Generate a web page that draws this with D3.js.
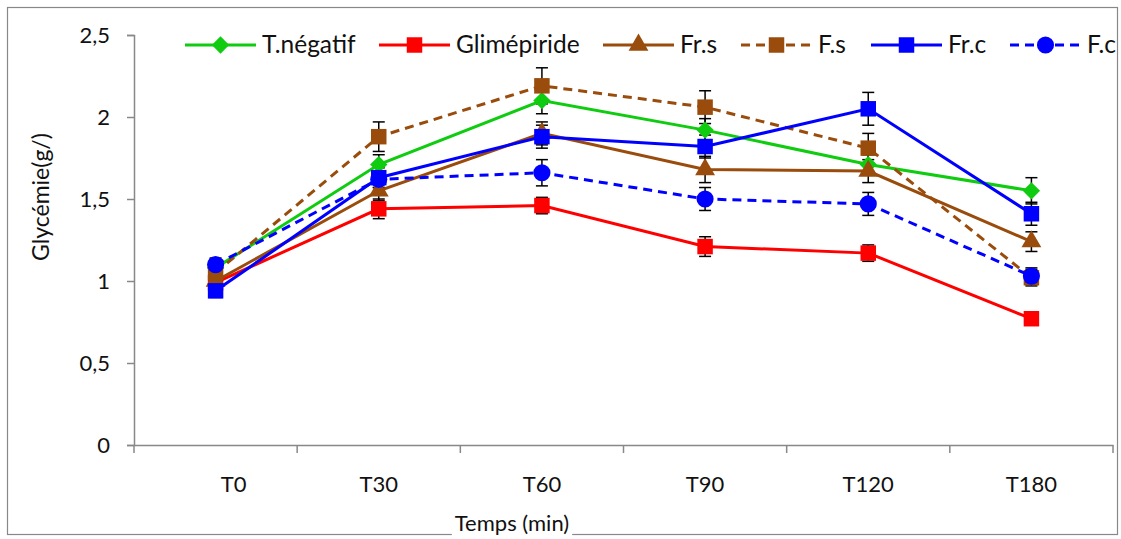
<!DOCTYPE html>
<html>
<head>
<meta charset="utf-8">
<script src="https://d3js.org/d3.v7.min.js"></script>
<style>
  body { margin: 0; background: #fff; }
  text { font-family: Lato, "Open Sans", sans-serif; fill: #111; }
</style>
</head>
<body>
<div id="chart"></div>
<script>
'use strict';

// Time points
const categories = ['T0', 'T30', 'T60', 'T90', 'T120', 'T180'];
const yTicks = [0, 0.5, 1, 1.5, 2, 2.5];

// Mean glycemia (g/l) per group
const tNegatif = [1.08, 1.71, 2.10, 1.92, 1.71, 1.55];
const glimepiride = [0.99, 1.44, 1.46, 1.21, 1.17, 0.77];
const frS = [1.00, 1.55, 1.90, 1.68, 1.67, 1.24];
const fS = [1.05, 1.88, 2.19, 2.06, 1.81, 1.02];
const frC = [0.94, 1.63, 1.88, 1.82, 2.05, 1.41];
const fC = [1.10, 1.62, 1.66, 1.50, 1.47, 1.03];

// Error (SEM) per group
const tNegatifErr = [0.05, 0.06, 0.08, 0.07, 0.06, 0.08];
const glimepirideErr = [0.04, 0.06, 0.05, 0.06, 0.05, 0.04];
const frSErr = [0.04, 0.06, 0.07, 0.08, 0.07, 0.06];
const fSErr = [0.05, 0.09, 0.11, 0.10, 0.09, 0.05];
const frCErr = [0.04, 0.06, 0.07, 0.07, 0.10, 0.07];
const fCErr = [0.04, 0.05, 0.08, 0.07, 0.07, 0.05];

// diamond = square turned 45deg
const series = [
  { name: 'T.négatif', values: tNegatif, err: tNegatifErr, color: '#10cc10', dash: null, symbol: d3.symbolSquare, size: 150, rot: 45 },
  { name: 'Glimépiride', values: glimepiride, err: glimepirideErr, color: '#ff0000', dash: null, symbol: d3.symbolSquare, size: 240, rot: 0 },
  { name: 'Fr.s', values: frS, err: frSErr, color: '#994c0c', dash: null, symbol: d3.symbolTriangle, size: 170, rot: 0 },
  { name: 'F.s', values: fS, err: fSErr, color: '#994c0c', dash: '9,6', symbol: d3.symbolSquare, size: 240, rot: 0 },
  { name: 'Fr.c', values: frC, err: frCErr, color: '#0000ff', dash: null, symbol: d3.symbolSquare, size: 240, rot: 0 },
  { name: 'F.c', values: fC, err: fCErr, color: '#0000ff', dash: '9,6', symbol: d3.symbolCircle, size: 230, rot: 0 }
];

const width = 1121;
const height = 539;
const margin = { top: 35, right: 8, bottom: 94, left: 134 };

const svg = d3.select('#chart')
  .append('svg')
  .attr('width', width)
  .attr('height', height);

// Outer frame
svg.append('rect')
  .attr('x', 7.5).attr('y', 7.5)
  .attr('width', 1110).attr('height', 527)
  .attr('fill', '#fff')
  .attr('stroke', '#888')
  .attr('stroke-width', 1.2);

const x = d3.scaleBand()
  .domain(categories)
  .range([margin.left, width - margin.right])
  .padding(0);

const y = d3.scaleLinear()
  .domain([0, 2.5])
  .range([height - margin.bottom, margin.top]);

const cx = d => x(d) + x.bandwidth() / 2;

// Y axis
const yAxis = svg.append('g')
  .attr('transform', `translate(${margin.left},0)`)
  .call(d3.axisLeft(y).tickValues(yTicks).tickSize(7).tickPadding(17)
    .tickFormat(d => String(d).replace('.', ',')));

// X axis
const xAxis = svg.append('g')
  .attr('transform', `translate(0,${height - margin.bottom})`)
  .call(d3.axisBottom(x).tickSize(0).tickPadding(31));

xAxis.selectAll('.tick line').remove();
// first label sits a bit right of its point, as in the original
xAxis.selectAll('.tick text').filter(d => d === 'T0').attr('dx', 18);

// Tick marks at band boundaries
xAxis.selectAll('.bound')
  .data(categories.concat(['end']))
  .enter()
  .append('line')
  .attr('x1', (d, i) => i < categories.length ? x(d) : x.range()[1])
  .attr('x2', (d, i) => i < categories.length ? x(d) : x.range()[1])
  .attr('y1', 0)
  .attr('y2', 8)
  .attr('stroke', '#888')
  .attr('stroke-width', 1.5);

[yAxis, xAxis].forEach(ax => {
  ax.select('.domain').attr('stroke', '#888').attr('stroke-width', 1.5);
  ax.selectAll('.tick line').attr('stroke', '#888').attr('stroke-width', 1.5);
  ax.selectAll('text').style('font-size', '22px').attr('fill', '#111');
});

// Axis titles
const xTitle = svg.append('text')
  .attr('x', 512)
  .attr('y', 531)
  .attr('text-anchor', 'middle')
  .style('font-size', '22px')
  .text('Temps (min)');

const bb = xTitle.node().getBBox();
svg.insert('rect', () => xTitle.node())
  .attr('x', bb.x - 3).attr('y', bb.y)
  .attr('width', bb.width + 6).attr('height', bb.height + 6)
  .attr('fill', '#fff');

svg.append('text')
  .attr('transform', 'translate(49,197) rotate(-90)')
  .attr('text-anchor', 'middle')
  .style('font-size', '23px')
  .text('Glycémie(g/)');

const plot = svg.append('g');

// Error bars
series.forEach(s => {
  const g = plot.append('g');
  s.values.forEach((v, i) => {
    const px = cx(categories[i]);
    g.append('line')
      .attr('x1', px).attr('x2', px)
      .attr('y1', y(v - s.err[i])).attr('y2', y(v + s.err[i]))
      .attr('stroke', '#000').attr('stroke-width', 1.5);
    [v - s.err[i], v + s.err[i]].forEach(e => {
      g.append('line')
        .attr('x1', px - 6).attr('x2', px + 6)
        .attr('y1', y(e)).attr('y2', y(e))
        .attr('stroke', '#000').attr('stroke-width', 1.5);
    });
  });
});

const line = d3.line()
  .x((d, i) => cx(categories[i]))
  .y(d => y(d));

series.forEach(s => {
  plot.append('path')
    .datum(s.values)
    .attr('d', line)
    .attr('fill', 'none')
    .attr('stroke', s.color)
    .attr('stroke-width', 3)
    .attr('stroke-dasharray', s.dash);

  plot.selectAll(null)
    .data(s.values)
    .enter()
    .append('path')
    .attr('d', d3.symbol().type(s.symbol).size(s.size))
    .attr('transform', (d, i) => `translate(${cx(categories[i])},${y(d)}) rotate(${s.rot})`)
    .attr('fill', s.color);
});

// Legend
const legendX = [185, 379, 603, 741, 871, 1010];
const legendW = 71;
const legend = svg.append('g');
series.forEach((s, i) => {
  const g = legend.append('g').attr('transform', `translate(${legendX[i]},45)`);
  g.append('line')
    .attr('x1', 0).attr('x2', legendW)
    .attr('y1', 0).attr('y2', 0)
    .attr('stroke', s.color)
    .attr('stroke-width', 3)
    .attr('stroke-dasharray', s.dash);
  g.append('path')
    .attr('d', d3.symbol().type(s.symbol).size(s.size))
    .attr('transform', `translate(${legendW / 2},0) rotate(${s.rot})`)
    .attr('fill', s.color);
  g.append('text')
    .attr('x', legendW + 6)
    .attr('y', 8)
    .style('font-size', '24.5px')
    .text(s.name);
});
</script>
</body>
</html>
